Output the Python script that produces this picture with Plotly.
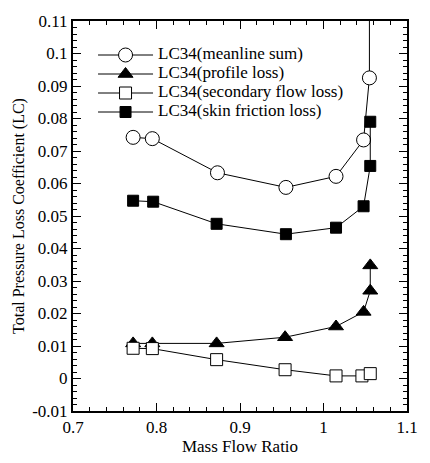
import plotly.graph_objects as go

# Data
x_mean = [0.772, 0.795, 0.873, 0.955, 1.015, 1.048, 1.055, 1.055]
y_mean = [0.0742, 0.0738, 0.0633, 0.0588, 0.0622, 0.0734, 0.0925, 0.13]

x_prof = [0.772, 0.795, 0.872, 0.954, 1.015, 1.048, 1.056, 1.056]
y_prof = [0.0108, 0.0108, 0.0108, 0.0127, 0.0160, 0.0205, 0.0270, 0.0348]

x_sec = [0.772, 0.795, 0.872, 0.954, 1.015, 1.046, 1.056]
y_sec = [0.0093, 0.0092, 0.0058, 0.0027, 0.0008, 0.0008, 0.0015]

x_skin = [0.772, 0.796, 0.872, 0.955, 1.015, 1.048, 1.056, 1.056]
y_skin = [0.0547, 0.0544, 0.0476, 0.0444, 0.0464, 0.0530, 0.0654, 0.0790]

names = ["LC34(meanline sum)", "LC34(profile loss)",
         "LC34(secondary flow loss)", "LC34(skin friction loss)"]

y_ticks = [-0.01, 0, 0.01, 0.02, 0.03, 0.04, 0.05, 0.06, 0.07, 0.08, 0.09, 0.1, 0.11]
y_ticktext = ["-0.01", "0", "0.01", "0.02", "0.03", "0.04", "0.05", "0.06",
              "0.07", "0.08", "0.09", "0.1", "0.11"]
x_ticks = [0.7, 0.8, 0.9, 1.0, 1.1]
x_ticktext = ["0.7", "0.8", "0.9", "1", "1.1"]

FONT = "Liberation Serif"


def legend_name(s):
    return "<span style='font-size:17px'>" + s + "</span>"


fig = go.Figure()
line = dict(color="black", width=1)
fig.add_trace(go.Scatter(x=x_mean, y=y_mean, name=legend_name(names[0]), mode="lines+markers",
                         line=line,
                         marker=dict(symbol="circle", size=14, color="white",
                                     line=dict(color="black", width=1))))
fig.add_trace(go.Scatter(x=x_prof, y=y_prof, name=legend_name(names[1]), mode="lines+markers",
                         line=line,
                         marker=dict(symbol="triangle-up", size=13, color="black",
                                     line=dict(color="black", width=1))))
fig.add_trace(go.Scatter(x=x_sec, y=y_sec, name=legend_name(names[2]), mode="lines+markers",
                         line=line,
                         marker=dict(symbol="square", size=12, color="white",
                                     line=dict(color="black", width=1))))
fig.add_trace(go.Scatter(x=x_skin, y=y_skin, name=legend_name(names[3]), mode="lines+markers",
                         line=line,
                         marker=dict(symbol="square", size=11, color="black",
                                     line=dict(color="black", width=1))))

axis_common = dict(showgrid=False, zeroline=False, showline=True, linecolor="black",
                   linewidth=2, mirror="ticks", ticks="inside", ticklen=8,
                   tickcolor="black", tickwidth=1,
                   tickfont=dict(family=FONT, size=17, color="black"))

fig.update_xaxes(range=[0.7, 1.1], tickvals=x_ticks, ticktext=x_ticktext,
                 title=dict(text="Mass Flow Ratio", font=dict(family=FONT, size=17, color="black"),
                            standoff=2),
                 minor=dict(dtick=0.02, ticks="inside", ticklen=4, tickcolor="black"),
                 **axis_common)
fig.update_yaxes(range=[-0.01, 0.11], tickvals=y_ticks, ticktext=y_ticktext,
                 title=dict(text="Total Pressure Loss Coefficient (LC)",
                            font=dict(family=FONT, size=16, color="black"), standoff=4),
                 minor=dict(dtick=0.002, ticks="inside", ticklen=4, tickcolor="black"),
                 **axis_common)

fig.update_layout(
    width=430, height=463,
    margin=dict(l=73, r=13, t=14, b=43),
    plot_bgcolor="white", paper_bgcolor="white",
    font=dict(family=FONT, color="black"),
    legend=dict(x=0.06, y=0.95, xanchor="left", yanchor="top",
                bgcolor="rgba(0,0,0,0)", font=dict(family=FONT, size=11, color="black"),
                tracegroupgap=0, itemwidth=55),
)

fig.write_html("out.html")
